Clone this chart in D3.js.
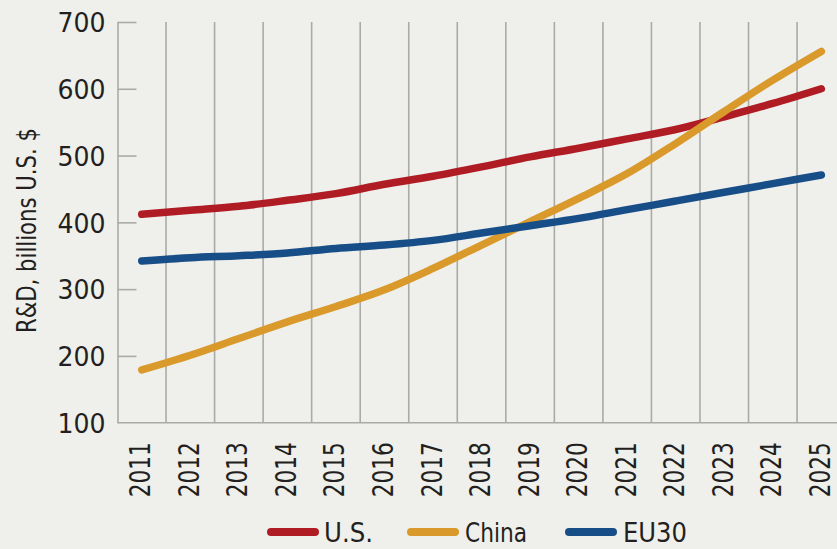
<!DOCTYPE html>
<html>
<head>
<meta charset="utf-8">
<script src="https://cdn.jsdelivr.net/npm/d3@7"></script>
<style>
  html, body { margin: 0; padding: 0; background: #efefeb; }
  svg { display: block; }
  text { fill: #231f20; font-family: "DejaVu Sans Condensed", "DejaVu Sans", sans-serif; }
</style>
</head>
<body>
<svg id="chart" width="837" height="549"></svg>
<script>
const years = ["2011","2012","2013","2014","2015","2016","2017","2018","2019","2020","2021","2022","2023","2024","2025"];
const usValues    = [412, 418, 424, 433, 443, 457, 469, 483, 498, 511, 525, 539, 558, 578, 600];
const chinaValues = [179, 201, 226, 251, 274, 299, 331, 366, 401, 436, 473, 518, 566, 613, 656];
const euValues    = [342, 347, 350, 354, 361, 366, 373, 384, 395, 406, 419, 432, 445, 458, 471];
const yTicks = [100, 200, 300, 400, 500, 600, 700];
const seriesNames = ["U.S.", "China", "EU30"];
const seriesColors = ["#b01c24", "#d99a2b", "#174e88"];
const yTitle = "R&D, billions U.S. $";

const series = [usValues, chinaValues, euValues].map((vals, i) => ({
  name: seriesNames[i], color: seriesColors[i],
  points: years.map((yr, j) => ({ year: yr, value: vals[j] }))
}));

const svg = d3.select("#chart");
const plotLeft = 117.5, bandW = 48.54, plotTop = 22, plotBottom = 422.7;

const x = d3.scaleBand().domain(years).range([plotLeft, plotLeft + bandW * years.length]).paddingInner(0).paddingOuter(0);
const y = d3.scaleLinear().domain([100, 700]).range([plotBottom, plotTop]);

// vertical gridlines at band boundaries
svg.append("g").selectAll("line")
  .data(years.slice(1))
  .join("line")
  .attr("x1", d => x(d)).attr("x2", d => x(d))
  .attr("y1", y(700)).attr("y2", y(100))
  .attr("stroke", "#aaaaa6").attr("stroke-width", 1.6);

// bottom axis line
svg.append("line")
  .attr("x1", plotLeft).attr("x2", 837)
  .attr("y1", y(100)).attr("y2", y(100))
  .attr("stroke", "#aaaaa6").attr("stroke-width", 1.6);

// y axis
const yAxis = svg.append("g")
  .attr("transform", `translate(${plotLeft},0)`)
  .call(d3.axisLeft(y).tickValues(yTicks).tickSize(-19).tickSizeOuter(0).tickPadding(12));
yAxis.select(".domain").attr("stroke", "#aaaaa6").attr("stroke-width", 1.6);
yAxis.selectAll(".tick line").attr("stroke", "#aaaaa6").attr("stroke-width", 1.6)
  .filter(d => d === 100).remove();
yAxis.selectAll(".tick text")
  .attr("font-size", 27).attr("fill", "#231f20")
  .attr("font-family", "'DejaVu Sans Condensed', sans-serif")
  .attr("dy", "0.36em")
  .attr("textLength", 48).attr("lengthAdjust", "spacingAndGlyphs");

// x axis labels
const xAxis = svg.append("g")
  .attr("transform", `translate(0,${y(100)})`)
  .call(d3.axisBottom(x).tickSize(0).tickFormat(d => d));
xAxis.select(".domain").remove();
xAxis.selectAll(".tick text")
  .attr("font-size", 29).attr("fill", "#231f20")
  .attr("font-family", "'DejaVu Sans Condensed', sans-serif")
  .attr("text-anchor", "end")
  .attr("transform", "translate(8.5,19.5) rotate(-90)")
  .attr("x", 0).attr("y", 0).attr("dy", 0)
  .attr("textLength", 55).attr("lengthAdjust", "spacingAndGlyphs");

// y title
svg.append("text")
  .attr("transform", "translate(36,230.5) rotate(-90)")
  .attr("text-anchor", "middle")
  .attr("font-size", 27)
  .attr("textLength", 205).attr("lengthAdjust", "spacingAndGlyphs")
  .text(yTitle);

// lines
const line = d3.line()
  .x(d => x(d.year) + x.bandwidth() / 2)
  .y(d => y(d.value))
  .curve(d3.curveMonotoneX);

svg.append("g").selectAll("path")
  .data(series)
  .join("path")
  .attr("d", d => line(d.points))
  .attr("fill", "none")
  .attr("stroke", d => d.color)
  .attr("stroke-width", 7.5)
  .attr("stroke-linecap", "round")
  .attr("stroke-linejoin", "round");

// legend
const legendItems = [
  { x0: 271, x1: 315, tx: 324, tw: 49 },
  { x0: 411, x1: 455, tx: 465, tw: 62 },
  { x0: 569, x1: 613, tx: 623, tw: 64 }
];
const lg = svg.append("g");
series.forEach((s, i) => {
  const it = legendItems[i];
  lg.append("line")
    .attr("x1", it.x0).attr("x2", it.x1)
    .attr("y1", 532).attr("y2", 532)
    .attr("stroke", s.color).attr("stroke-width", 8).attr("stroke-linecap", "round");
  lg.append("text")
    .attr("x", it.tx).attr("y", 542)
    .attr("font-size", 26)
    .attr("textLength", it.tw).attr("lengthAdjust", "spacingAndGlyphs")
    .text(s.name);
});
</script>
</body>
</html>
